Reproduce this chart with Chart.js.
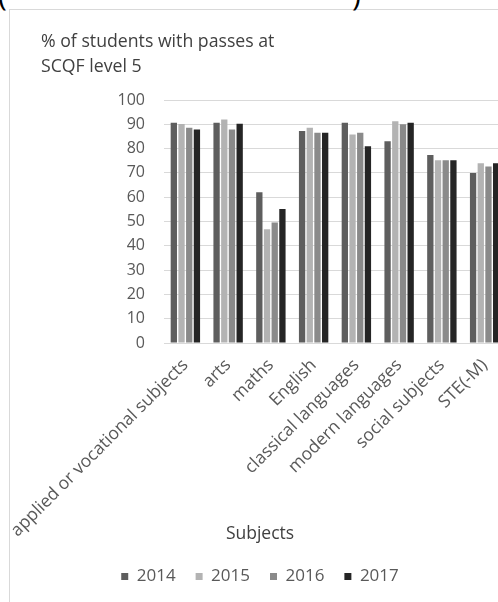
<!DOCTYPE html>
<html>
<head>
<meta charset="utf-8">
<script src="https://cdn.jsdelivr.net/npm/chart.js@4/dist/chart.umd.min.js"></script>
<style>
    html, body { margin: 0; padding: 0; background: #fff; overflow: hidden; }
    body { width: 498px; height: 602px; position: relative; font-family: "Open Sans", sans-serif; }
    #frame { position: absolute; left: 9px; top: 9px; width: 520px; height: 620px;
             border-left: 1px solid #d9d9d9; border-top: 1px solid #d9d9d9; }
    .cut { position: absolute; top: -26px; font: 30px "Open Sans", sans-serif; color: #000; }
    #titulo { position: absolute; left: 41px; top: 28px; font-size: 17.7px; line-height: 25px; color: #404040; }
    #ejeX { position: absolute; left: 0; width: 520px; top: 520px; text-align: center; font-size: 17.5px; color: #404040; }
    canvas { position: absolute; left: 0; top: 0; }
</style>
</head>
<body>
<div id="frame"></div>
<div class="cut" style="left:-2px">(</div>
<div class="cut" style="left:352px">)</div>
<canvas id="grafico" width="520" height="620"></canvas>
<div id="titulo">% of students with passes at<br>SCQF level 5</div>
<div id="ejeX">Subjects</div>
<script>
// categorias eje X
const materias = ["applied or vocational subjects", "arts", "maths", "English",
    "classical languages", "modern languages", "social subjects", "STE(-M)"];

// series por año
const anios = ["2014", "2015", "2016", "2017"];
const v2014 = [90.6, 90.6, 62.0, 87.2, 90.6, 83.0, 77.4, 70.0];
const v2015 = [90.1, 92.0, 46.8, 88.6, 85.8, 91.3, 75.2, 74.0];
const v2016 = [88.6, 87.9, 49.6, 86.5, 86.5, 90.0, 75.2, 72.6];
const v2017 = [87.9, 90.2, 55.1, 86.5, 81.0, 90.6, 75.2, 74.0];

// ticks eje Y
const ticksY = [0, 10, 20, 30, 40, 50, 60, 70, 80, 90, 100];

const colores = ["#5e5e5e", "#b3b3b3", "#8a8a8a", "#252525"];
const valores = [v2014, v2015, v2016, v2017];

const ctx = document.getElementById("grafico").getContext("2d");

new Chart(ctx, {
    type: "bar",
    data: {
        labels: materias,
        datasets: anios.map((a, i) => ({
            label: a,
            data: valores[i],
            backgroundColor: colores[i],
            borderWidth: 0,
            categoryPercentage: 0.72,
            barPercentage: 0.82
        }))
    },
    options: {
        responsive: false,
        animation: false,
        devicePixelRatio: 1,
        layout: { padding: { top: 100, right: 14, bottom: 25, left: 14 } },
        plugins: {
            tooltip: { enabled: false },
            legend: {
                position: "bottom",
                labels: {
                    boxWidth: 7,
                    boxHeight: 7,
                    padding: 20,
                    color: "#595959",
                    font: { family: "Open Sans", size: 17 }
                }
            }
        },
        scales: {
            x: {
                grid: { display: false, drawTicks: false },
                border: { color: "#d9d9d9" },
                ticks: {
                    minRotation: 45,
                    maxRotation: 45,
                    padding: 12,
                    autoSkip: false,
                    color: "#595959",
                    font: { family: "Open Sans", size: 17.5 }
                },
                afterFit: s => { s.height = 205; s.paddingLeft = 0; s.paddingRight = 0; }
            },
            y: {
                min: 0,
                max: 100,
                afterBuildTicks: s => { s.ticks = ticksY.map(v => ({ value: v })); },
                grid: { color: "#d9d9d9", drawTicks: false },
                border: { display: false },
                ticks: {
                    padding: 19,
                    color: "#595959",
                    font: { family: "Open Sans", size: 16 }
                },
                afterFit: s => { s.width = 150; }
            }
        }
    }
});
</script>
</body>
</html>
